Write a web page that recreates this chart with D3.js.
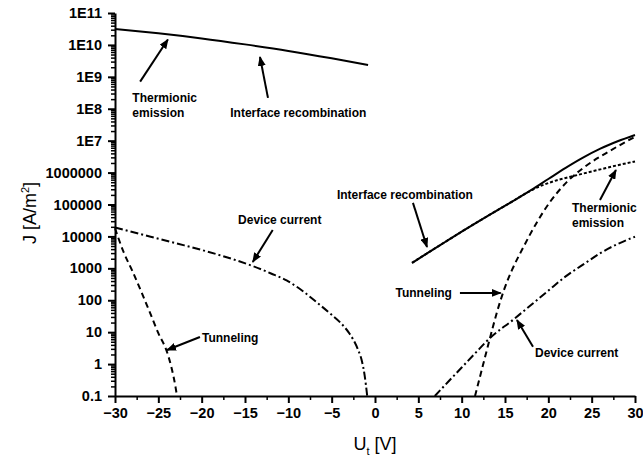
<!DOCTYPE html>
<html>
<head>
<meta charset="utf-8">
<script src="https://cdn.jsdelivr.net/npm/d3@7"></script>
<style>
  body { margin: 0; background: #fff; }
  text { font-family: "Liberation Sans", Arial, Helvetica, sans-serif; fill: #000; }
</style>
</head>
<body>
<div id="chart"></div>
<script>
// voltage U_t [V] and current density J [A/m^2]
const ifrNegU = [-30, -25, -20, -15, -10, -5, -0.8];
const ifrNegJ = [3.16e10, 2.31e10, 1.6e10, 1.04e10, 6.5e9, 3.8e9, 2.34e9];

const devNegU = [-30, -26, -22, -18, -16, -14, -12, -10.2, -8.5, -6.7, -5, -4, -3, -2.5, -2, -1.5, -1.2, -0.9];
const devNegJ = [1.9e4, 1.0e4, 5250, 2630, 1780, 1150, 690, 417, 209, 85, 35, 20, 9.5, 5.8, 3.0, 1.2, 0.45, 0.1];

const tunNegU = [-30, -29, -28, -27, -26, -25, -24, -23.5, -23, -22.85];
const tunNegJ = [1.8e4, 3200, 830, 195, 43, 9.3, 2.4, 0.81, 0.18, 0.1];

const ifrPosU = [4.27, 6, 8, 10, 12, 14, 16, 18, 20, 22, 24, 26, 28, 30];
const ifrPosJ = [1480, 2950, 6460, 14100, 30200, 63100, 1.32e5, 2.82e5, 6.31e5, 1.41e6, 2.95e6, 5.62e6, 9.55e6, 1.51e7];

const thePosU = [4.27, 6, 8, 10, 12, 14, 16, 18, 19, 20, 21, 22, 24, 26, 28, 30];
const thePosJ = [1480, 2950, 6460, 14100, 30200, 63100, 1.32e5, 2.75e5, 3.7e5, 4.7e5, 5.75e5, 6.75e5, 9.3e5, 1.26e6, 1.7e6, 2.24e6];

const tunPosU = [11.54, 12.46, 13.27, 14.08, 14.88, 15.81, 16.96, 18.69, 20.19, 22.15, 24, 27.11, 30];
const tunPosJ = [0.1, 0.93, 6.6, 43, 209, 890, 3800, 2.8e4, 1.2e5, 5.1e5, 1.38e6, 4.8e6, 1.32e7];

const devPosU = [6.9, 8.5, 10, 11.5, 13.27, 15.9, 18, 20, 22, 24, 26, 28, 30];
const devPosJ = [0.1, 0.29, 0.78, 2.1, 6.6, 24, 71, 200, 560, 1300, 3000, 5800, 9800];

const xTicks = [-30, -25, -20, -15, -10, -5, 0, 5, 10, 15, 20, 25, 30];
const yTicks = [0.1, 1, 10, 100, 1000, 1e4, 1e5, 1e6, 1e7, 1e8, 1e9, 1e10, 1e11];
const yTickLabels = ["0.1", "1", "10", "100", "1000", "10000", "100000", "1000000",
                     "1E7", "1E8", "1E9", "1E10", "1E11"];

const width = 643, height = 463;
const plotL = 115, plotR = 635, plotT = 13, plotB = 396;

const svg = d3.select("#chart").append("svg")
  .attr("width", width).attr("height", height);

const x = d3.scaleLinear().domain([-30, 30]).range([plotL, plotR]);
const y = d3.scaleLog().domain([0.1, 1e11]).range([plotB, plotT]);

// arrow head
svg.append("defs").append("marker")
  .attr("id", "arrow")
  .attr("markerUnits", "userSpaceOnUse")
  .attr("markerWidth", 10).attr("markerHeight", 8)
  .attr("refX", 9).attr("refY", 4)
  .attr("orient", "auto")
  .append("path").attr("d", "M0,0 L10,4 L0,8 Z").attr("fill", "#000");

// curves
const line = d3.line()
  .x(d => x(d[0])).y(d => y(d[1]))
  .curve(d3.curveMonotoneX);

const series = [
  { u: ifrNegU, j: ifrNegJ, dash: null },
  { u: devNegU, j: devNegJ, dash: "8,3,2,3" },
  { u: tunNegU, j: tunNegJ, dash: "6,4" },
  { u: thePosU, j: thePosJ, dash: "3,2" },
  { u: tunPosU, j: tunPosJ, dash: "6,4" },
  { u: devPosU, j: devPosJ, dash: "8,3,2,3" },
  { u: ifrPosU, j: ifrPosJ, dash: null }
];

svg.append("g").selectAll("path")
  .data(series)
  .join("path")
  .attr("d", s => line(s.u.map((u, i) => [u, s.j[i]])))
  .attr("fill", "none")
  .attr("stroke", "#000")
  .attr("stroke-width", 2)
  .attr("stroke-dasharray", s => s.dash);

// axes
const minorY = [];
for (let e = -1; e < 11; e++) {
  for (let k = 2; k <= 9; k++) minorY.push(k * Math.pow(10, e));
}
const minorX = d3.range(-27.5, 30, 5);

svg.append("g")
  .attr("transform", `translate(${plotL},0)`)
  .call(d3.axisLeft(y).tickValues(minorY).tickSize(4).tickFormat("").tickSizeOuter(0))
  .call(g => g.select(".domain").remove())
  .selectAll("line").attr("stroke-width", 1.5);

svg.append("g")
  .attr("transform", `translate(0,${plotB})`)
  .call(d3.axisBottom(x).tickValues(minorX).tickSize(4).tickFormat("").tickSizeOuter(0))
  .call(g => g.select(".domain").remove())
  .selectAll("line").attr("stroke-width", 1.5);

const yAxis = svg.append("g")
  .attr("transform", `translate(${plotL},0)`)
  .call(d3.axisLeft(y).tickValues(yTicks).tickSize(7).tickSizeOuter(0).tickPadding(6)
    .tickFormat((d, i) => yTickLabels[i]));

const xAxis = svg.append("g")
  .attr("transform", `translate(0,${plotB})`)
  .call(d3.axisBottom(x).tickValues(xTicks).tickSize(7).tickSizeOuter(0).tickPadding(5));

[yAxis, xAxis].forEach(g => {
  g.select(".domain").attr("stroke-width", 2);
  g.selectAll(".tick line").attr("stroke-width", 2);
  g.selectAll(".tick text")
    .style("font-size", "14.5px").style("font-weight", "bold")
    .style("font-family", "'Liberation Sans', Arial, sans-serif")
    .attr("fill", "#000");
});

// axis titles
const xt = svg.append("text")
  .attr("x", 375).attr("y", 450)
  .attr("text-anchor", "middle")
  .style("font-size", "18px");
xt.append("tspan").text("U");
xt.append("tspan").attr("dy", 5).style("font-size", "11px").text("t");
xt.append("tspan").attr("dy", -5).text(" [V]");

const yt = svg.append("text")
  .attr("transform", "translate(36,213) rotate(-90)")
  .attr("text-anchor", "middle")
  .style("font-size", "18px");
yt.append("tspan").text("J [A/m");
yt.append("tspan").attr("dy", -7).style("font-size", "11px").text("2");
yt.append("tspan").attr("dy", 7).text("]");

// annotations, in data coordinates
const notes = [
  { lines: ["Thermionic", "emission"], u: -28.0, j: 10 ** 8.34, anchor: "start",
    from: [-27.1, 10 ** 8.85], to: [-23.9, 10 ** 10.17] },
  { lines: ["Interface recombination"], u: -16.7, j: 10 ** 7.87, anchor: "start",
    from: [-12.35, 10 ** 8.34], to: [-13.27, 10 ** 9.62] },
  { lines: ["Device current"], u: -15.8, j: 10 ** 4.52, anchor: "start",
    from: [-11.8, 10 ** 4.2], to: [-14.1, 10 ** 3.2] },
  { lines: ["Tunneling"], u: -19.96, j: 10 ** 0.82, anchor: "start",
    from: [-20.2, 10 ** 0.85], to: [-24.0, 10 ** 0.44] },
  { lines: ["Interface recombination"], u: 11.3, j: 10 ** 5.3, anchor: "end",
    from: [4.38, 10 ** 5.05], to: [6.0, 10 ** 3.67] },
  { lines: ["Tunneling"], u: 8.88, j: 10 ** 2.23, anchor: "end",
    from: [9.8, 10 ** 2.23], to: [14.5, 10 ** 2.23] },
  { lines: ["Thermionic", "emission"], u: 22.73, j: 10 ** 4.89, anchor: "start",
    from: [25.96, 10 ** 5.14], to: [27.8, 10 ** 6.08] },
  { lines: ["Device current"], u: 18.46, j: 10 ** 0.35, anchor: "start",
    from: [18.23, 10 ** 0.54], to: [16.38, 10 ** 1.38] }
];

const ng = svg.append("g");
notes.forEach(n => {
  const t = ng.append("text")
    .attr("x", x(n.u)).attr("y", y(n.j) + 4)
    .attr("text-anchor", n.anchor)
    .style("font-size", "12px").style("font-weight", "bold");
  n.lines.forEach((s, i) => {
    t.append("tspan").attr("x", x(n.u)).attr("dy", i ? 15 : 0).text(s);
  });
  ng.append("line")
    .attr("x1", x(n.from[0])).attr("y1", y(n.from[1]))
    .attr("x2", x(n.to[0])).attr("y2", y(n.to[1]))
    .attr("stroke", "#000").attr("stroke-width", 2)
    .attr("marker-end", "url(#arrow)");
});
</script>
</body>
</html>
